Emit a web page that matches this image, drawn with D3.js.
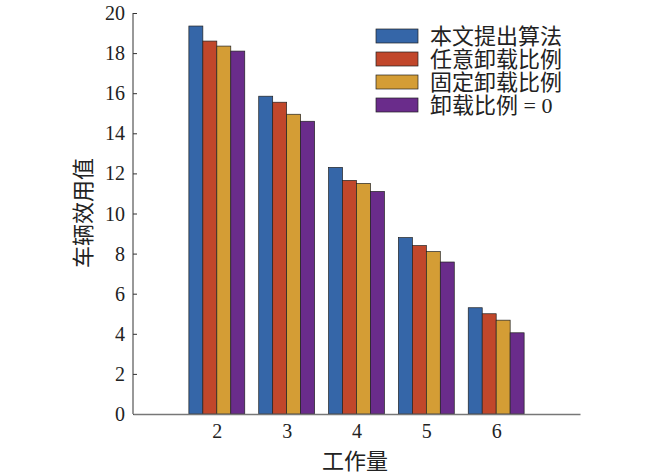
<!DOCTYPE html>
<html lang="zh">
<head>
<meta charset="UTF-8">
<title>车辆效用值</title>
<script src="https://d3js.org/d3.v7.min.js"></script>
<style>
  body { margin: 0; background: #fff; }
  text { font-family: "Liberation Serif", "Noto Sans CJK SC", serif; fill: #222; }
</style>
</head>
<body>
<script>
// 工作量 categories
var workloads = [2, 3, 4, 5, 6];
// series names (legend)
var seriesNames = ["本文提出算法", "任意卸载比例", "固定卸载比例", "卸载比例 = 0"];
// values, one array per series
var proposed   = [19.35, 15.85, 12.3, 8.8, 5.3];
var arbitrary  = [18.6, 15.55, 11.65, 8.4, 5.0];
var fixedRatio = [18.35, 14.95, 11.5, 8.1, 4.68];
var zeroRatio  = [18.1, 14.6, 11.1, 7.58, 4.05];
var yTicks = [0, 2, 4, 6, 8, 10, 12, 14, 16, 18, 20];

var colors = ["#3566a8", "#c1472b", "#d49d35", "#6a2c8b"];
var allSeries = [proposed, arbitrary, fixedRatio, zeroRatio];

var width = 650, height = 475;
var plotLeft = 133, plotRight = 580, plotTop = 13, plotBottom = 414;

var svg = d3.select("body").append("svg")
    .attr("width", width)
    .attr("height", height);

var xScale = d3.scaleLinear().domain([0.8, 7.2]).range([plotLeft, plotRight]);
var yScale = d3.scaleLinear().domain([0, 20]).range([plotBottom, plotTop]);
var barW = 0.2; // in x units

// bars
var groups = svg.append("g").selectAll("g")
    .data(allSeries)
    .enter()
    .append("g")
    .attr("fill", (d, i) => colors[i]);

groups.selectAll("rect")
    .data((d, i) => d.map((v, j) => ({v: v, x: workloads[j], s: i})))
    .enter()
    .append("rect")
    .attr("x", d => xScale(d.x - 2 * barW + d.s * barW))
    .attr("width", d => xScale(d.x + barW) - xScale(d.x))
    .attr("y", d => yScale(d.v))
    .attr("height", d => yScale(0) - yScale(d.v))
    .attr("stroke", "#222")
    .attr("stroke-width", 0.7);

// y axis (ticks inward)
var yAxis = d3.axisRight(yScale)
    .tickValues(yTicks)
    .tickSize(4)
    .tickFormat("");
var gy = svg.append("g")
    .attr("transform", "translate(" + plotLeft + ",0)")
    .call(yAxis);
gy.select(".domain").attr("stroke", "#333").attr("d", "M0," + plotTop + "V" + plotBottom);
gy.selectAll(".tick line").attr("stroke", "#333");

svg.append("g").selectAll("text")
    .data(yTicks)
    .enter()
    .append("text")
    .attr("x", plotLeft - 8)
    .attr("y", d => yScale(d))
    .attr("dy", "0.35em")
    .attr("text-anchor", "end")
    .attr("font-size", 20)
    .text(d => d);

// x axis
var xAxis = d3.axisBottom(xScale)
    .tickValues(workloads)
    .tickFormat(d3.format("d"))
    .tickSize(0)
    .tickPadding(10);
var gx = svg.append("g")
    .attr("transform", "translate(0," + plotBottom + ")")
    .call(xAxis);
gx.select(".domain").attr("stroke", "#777").attr("stroke-width", 1.5);
gx.selectAll("text")
    .attr("font-size", 20)
    .attr("font-family", "Liberation Serif, serif")
    .attr("fill", "#222");

// axis titles
svg.append("text")
    .attr("x", 355)
    .attr("y", 469)
    .attr("text-anchor", "middle")
    .attr("font-size", 22)
    .text("工作量");

svg.append("text")
    .attr("transform", "translate(91,213) rotate(-90)")
    .attr("text-anchor", "middle")
    .attr("font-size", 22)
    .text("车辆效用值");

// legend
var legend = svg.append("g")
    .attr("transform", "translate(376,29)");
var items = legend.selectAll("g")
    .data(seriesNames)
    .enter()
    .append("g")
    .attr("transform", (d, i) => "translate(0," + i * 23 + ")");
items.append("rect")
    .attr("width", 42)
    .attr("height", 14)
    .attr("fill", (d, i) => colors[i])
    .attr("stroke", "#222")
    .attr("stroke-width", 0.7);
items.append("text")
    .attr("x", 54)
    .attr("y", 7)
    .attr("dy", "0.36em")
    .attr("font-size", 22)
    .text(d => d);
</script>
</body>
</html>
